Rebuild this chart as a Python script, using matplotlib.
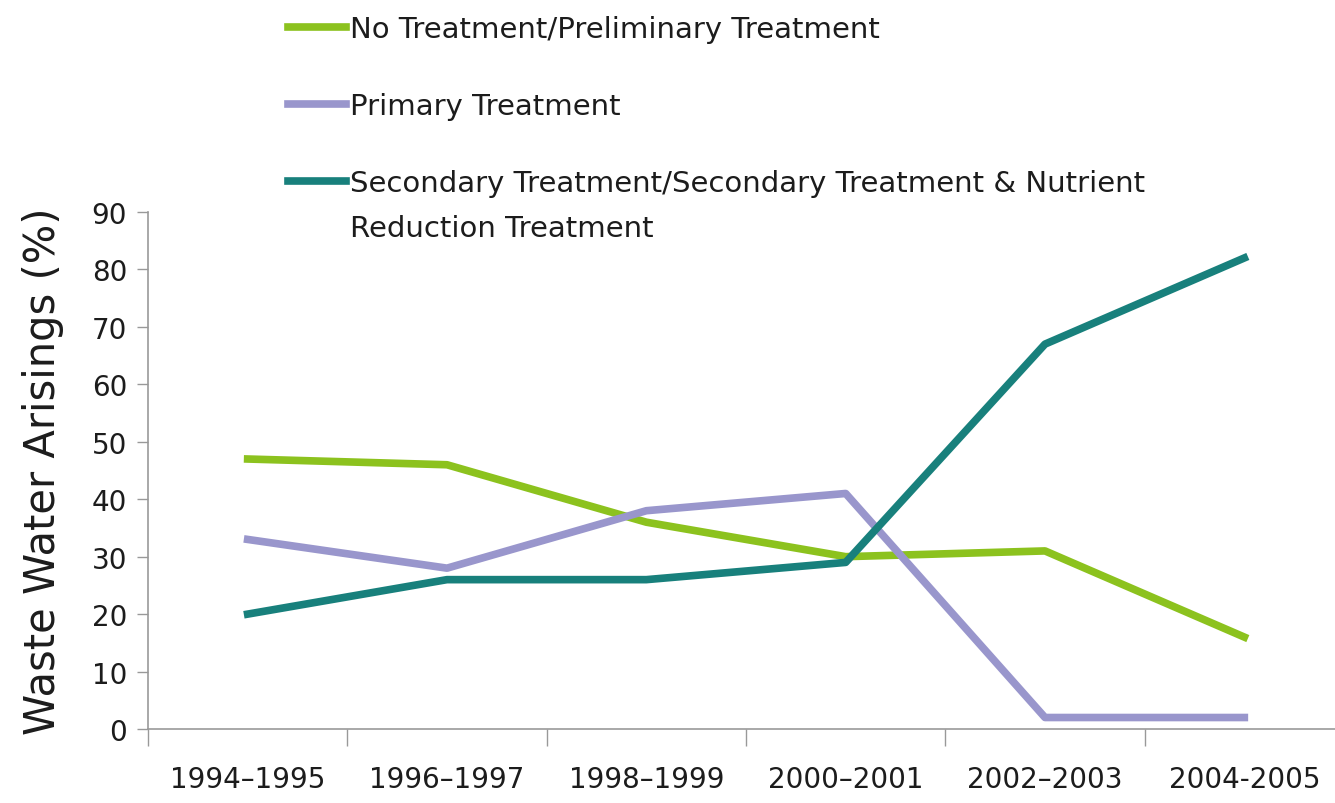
import matplotlib
matplotlib.use("Agg")
import matplotlib.pyplot as plt
import numpy as np

# Daten
periods = ["1994–1995", "1996–1997", "1998–1999", "2000–2001", "2002–2003", "2004-2005"]
no_treatment = [47, 46, 36, 30, 31, 16]
primary = [33, 28, 38, 41, 2, 2]
secondary = [20, 26, 26, 29, 67, 82]

labels = [
    "No Treatment/Preliminary Treatment",
    "Primary Treatment",
    "Secondary Treatment/Secondary Treatment & Nutrient",
]
label_line2 = "Reduction Treatment"

green = "#8cc21e"
purple = "#9996cc"
teal = "#18807c"
text_col = "#1c1c1c"

fig = plt.figure(figsize=(13.35, 8.04), dpi=100)
W, H = 1335, 804
ax = fig.add_axes([148 / W, (H - 730) / H, (1344 - 148) / W, (730 - 213) / H])

x = np.arange(len(periods))
ax.plot(x, no_treatment, color=green, lw=5.5, label=labels[0])
ax.plot(x, primary, color=purple, lw=5.5, label=labels[1])
ax.plot(x, secondary, color=teal, lw=5.5, label=labels[2])

ax.set_xlim(-0.5, len(periods) - 0.5)
ax.set_ylim(0, 90)
ax.set_yticks(range(0, 91, 10))
ax.set_xticks(x)
ax.set_xticklabels(periods)
ax.set_xticks(np.arange(-0.5, len(periods), 1.0), minor=True)

for s in ["top", "right"]:
    ax.spines[s].set_visible(False)
for s in ["left", "bottom"]:
    ax.spines[s].set_color("#999999")
    ax.spines[s].set_linewidth(1.2)

ax.tick_params(axis="y", length=8, width=1, color="#999999", pad=7, labelsize=20, labelcolor=text_col)
ax.tick_params(axis="x", which="major", length=0, pad=26, labelsize=20, labelcolor=text_col)
ax.tick_params(axis="x", which="minor", length=12, width=1, color="#999999")

ax.set_ylabel("Waste Water Arisings (%)", fontsize=30, color=text_col, labelpad=20)

leg = fig.legend(loc="upper left", bbox_to_anchor=(288 / W, 1 - 16 / H), frameon=False,
                 prop={"size": 21}, handlelength=2.0, handletextpad=0.14,
                 labelspacing=1.68, borderpad=0, borderaxespad=0)
for t in leg.get_texts():
    t.set_color(text_col)

# zweite Zeile vom dritten Legendeneintrag
fig.canvas.draw()
bb = leg.get_texts()[2].get_window_extent()
fig.text(bb.x0 / W, (bb.y0 - 45) / H, label_line2, size=21, color=text_col,
         ha="left", va="bottom")

fig.savefig("out.png", dpi=100)
